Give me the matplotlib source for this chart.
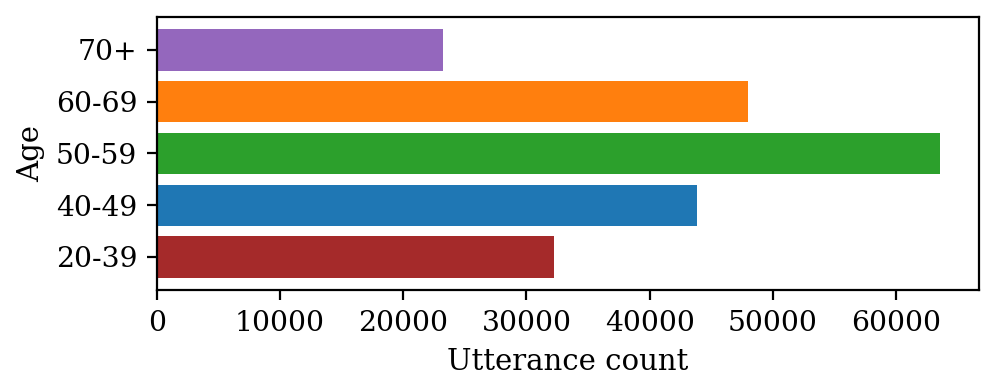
import matplotlib
matplotlib.use("Agg")
import matplotlib.pyplot as plt

# Utterance counts per age group (bottom to top)
age_groups = ["20-39", "40-49", "50-59", "60-69", "70+"]
utterance_counts = [32200, 43850, 63550, 47950, 23200]
bar_colors = ["brown", "tab:blue", "tab:green", "tab:orange", "tab:purple"]

plt.rcParams["font.family"] = "DejaVu Serif"
plt.rcParams["font.size"] = 10.5
plt.rcParams["xtick.labelsize"] = 10.2
plt.rcParams["ytick.labelsize"] = 10.2

fig, ax = plt.subplots(figsize=(4.99, 1.96), dpi=200)
ax.barh(age_groups, utterance_counts, color=bar_colors)
ax.set_xlabel("Utterance count")
ax.set_ylabel("Age")
ax.set_xticks([0, 10000, 20000, 30000, 40000, 50000, 60000])

fig.subplots_adjust(left=0.157, right=0.981, top=0.957, bottom=0.26)
fig.savefig("out.png", dpi=200)
